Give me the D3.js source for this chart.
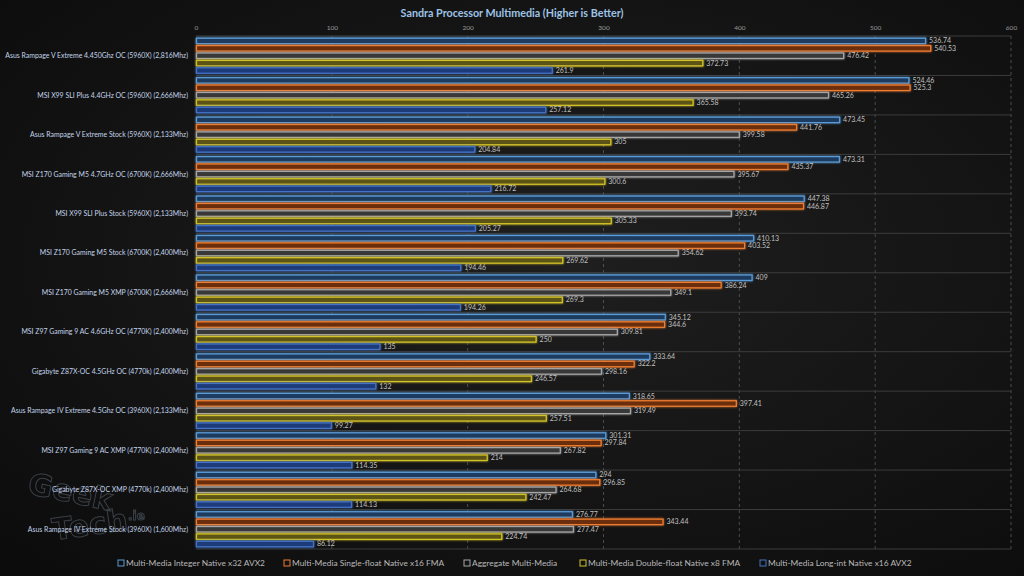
<!DOCTYPE html>
<html><head><meta charset="utf-8">
<script src="https://cdn.jsdelivr.net/npm/d3@7"></script>
<style>
html,body{margin:0;padding:0;background:#111;}
svg{display:block;}
</style></head>
<body>
<svg id="chart" width="1024" height="576"></svg>
<script>
const title = "Sandra Processor Multimedia (Higher is Better)";
const categories = [
  "Asus Rampage V Extreme 4.450Ghz OC (5960X) (2,816Mhz)",
  "MSI X99 SLI Plus 4.4GHz OC (5960X) (2,666Mhz)",
  "Asus Rampage V Extreme Stock (5960X) (2,133Mhz)",
  "MSI Z170 Gaming M5 4.7GHz OC (6700K) (2,666Mhz)",
  "MSI X99 SLI Plus Stock (5960X) (2,133Mhz)",
  "MSI Z170 Gaming M5 Stock (6700K) (2,400Mhz)",
  "MSI Z170 Gaming M5 XMP (6700K) (2,666Mhz)",
  "MSI Z97 Gaming 9 AC 4.6GHz OC (4770K) (2,400Mhz)",
  "Gigabyte Z87X-OC 4.5GHz OC (4770k) (2,400Mhz)",
  "Asus Rampage IV Extreme 4.5Ghz OC (3960X) (2,133Mhz)",
  "MSI Z97 Gaming 9 AC XMP (4770K) (2,400Mhz)",
  "Gigabyte Z87X-OC XMP (4770k) (2,400Mhz)",
  "Asus Rampage IV Extreme Stock (3960X) (1,600Mhz)"
];
const seriesNames = [
  "Multi-Media Integer Native x32 AVX2",
  "Multi-Media Single-float Native x16 FMA",
  "Aggregate Multi-Media",
  "Multi-Media Double-float Native x8 FMA",
  "Multi-Media Long-int Native x16 AVX2"
];
const integerX32 = [536.74, 524.46, 473.45, 473.31, 447.38, 410.13, 409, 345.12, 333.64, 318.65, 301.31, 294, 276.77];
const singleFloatX16 = [540.53, 525.3, 441.76, 435.37, 446.87, 403.52, 386.24, 344.6, 322.2, 397.41, 297.84, 296.85, 343.44];
const aggregate = [476.42, 465.26, 399.58, 395.67, 393.74, 354.62, 349.1, 309.81, 298.16, 319.49, 267.82, 264.68, 277.47];
const doubleFloatX8 = [372.73, 365.58, 305, 300.6, 305.33, 269.62, 269.3, 250, 246.57, 257.51, 214, 242.47, 224.74];
const longIntX16 = [261.9, 257.12, 204.84, 216.72, 205.27, 194.46, 194.26, 135, 132, 99.27, 114.35, 114.13, 86.12];
const tickValues = [0, 100, 200, 300, 400, 500, 600];

const seriesValues = [integerX32, singleFloatX16, aggregate, doubleFloatX8, longIntX16];
const strokeColors = ["#5b9bd5", "#ed7d31", "#a5a5a5", "#d2c22a", "#4472c4"];
const fillColors = ["#1e3b5e", "#6a2d0b", "#383838", "#5c5312", "#1f3a78"];

const FONT = "Lato, 'Open Sans', sans-serif";
const svg = d3.select("#chart");
const W = 1024, H = 576;
const m = {left: 196, right: 13, top: 36, bottom: 27};

function fitSize(sel, maxW, start) {
  let s = start;
  sel.attr("font-size", s);
  let w = d3.max(sel.nodes(), n => n.getComputedTextLength());
  if (w > 0) { s = s * maxW / w; sel.attr("font-size", s); }
}

const defs = svg.append("defs");
const bg = defs.append("radialGradient").attr("id","bg").attr("cx","55%").attr("cy","45%").attr("r","75%");
bg.append("stop").attr("offset","0%").attr("stop-color","#1f1f1f");
bg.append("stop").attr("offset","100%").attr("stop-color","#0c0c0c");
const glow = defs.append("filter").attr("id","glow").attr("x","-5%").attr("y","-60%").attr("width","110%").attr("height","220%");
glow.append("feGaussianBlur").attr("in","SourceGraphic").attr("stdDeviation","1").attr("result","b");
const mg = glow.append("feMerge");
mg.append("feMergeNode").attr("in","b");
mg.append("feMergeNode").attr("in","SourceGraphic");

svg.append("rect").attr("width",W).attr("height",H).attr("fill","url(#bg)");

// watermark
const wm = svg.append("g").attr("opacity",0.35).attr("font-family","'DejaVu Sans', sans-serif").attr("font-weight","bold")
  .attr("fill","none").attr("stroke","#8a9ab0").attr("stroke-width",1);
wm.append("text").attr("x",28).attr("y",500).attr("font-size",30).attr("transform","rotate(12,60,490)").text("Geek");
wm.append("text").attr("x",52).attr("y",535).attr("font-size",30).attr("transform","rotate(-8,90,525)").text("Tech");
wm.append("text").attr("x",128).attr("y",520).attr("font-size",12).text(".ie");

const x = d3.scaleLinear().domain([0, 600]).range([m.left, W - m.right]);
const y = d3.scaleBand().domain(categories).range([m.top, H - m.bottom]).padding(0);
const yi = d3.scaleBand().domain(d3.range(seriesNames.length)).range([0, y.bandwidth()]).paddingInner(0.26).paddingOuter(0.3);

// title
const t = svg.append("text").attr("x", 512).attr("y", 17).attr("text-anchor","middle")
  .attr("font-family",FONT).attr("font-weight","bold")
  .attr("fill","#9dc3e6").text(title);
fitSize(t, 223, 12);

// gridlines
const grid = svg.append("g");
grid.selectAll("line.v").data(tickValues.filter(d => d > 0)).enter().append("line")
  .attr("x1", d => x(d)).attr("x2", d => x(d)).attr("y1", m.top).attr("y2", H - m.bottom)
  .attr("stroke","#5a5a5a").attr("stroke-width",0.8).attr("stroke-dasharray","3,3");
grid.selectAll("line.h").data(d3.range(categories.length + 1)).enter().append("line")
  .attr("x1", m.left).attr("x2", W - m.right)
  .attr("y1", i => m.top + i * y.step()).attr("y2", i => m.top + i * y.step())
  .attr("stroke","#3c3c3c").attr("stroke-width",1);

// top axis
const axis = d3.axisTop(x).tickValues(tickValues).tickSize(0).tickPadding(6);
const ax = svg.append("g").attr("transform", `translate(0,${m.top})`).call(axis);
ax.select(".domain").remove();
ax.selectAll("text").attr("fill","#9a9a9a").attr("font-size",6.5).attr("font-family",FONT);

// category labels
const cl = svg.append("g").selectAll("text").data(categories).enter().append("text")
  .attr("x", 188).attr("y", d => y(d) + y.bandwidth()/2).attr("dy","0.35em")
  .attr("text-anchor","end").attr("font-family",FONT)
  .attr("fill","#c4d4ea").text(d => d);
fitSize(cl, 183, 8);

// bars
const rows = [];
categories.forEach((c, ci) => seriesValues.forEach((vals, si) => rows.push({c, si, v: vals[ci]})));
const bars = svg.append("g");
bars.selectAll("rect").data(rows).enter().append("rect")
  .attr("x", x(0) + 0.5).attr("y", d => y(d.c) + yi(d.si))
  .attr("width", d => x(d.v) - x(0)).attr("height", yi.bandwidth())
  .attr("fill", d => fillColors[d.si]).attr("stroke", d => strokeColors[d.si]).attr("stroke-width", 1.3)
  .attr("filter","url(#glow)");
bars.selectAll("text").data(rows).enter().append("text")
  .attr("x", d => x(d.v) + 4).attr("y", d => y(d.c) + yi(d.si) + yi.bandwidth()/2).attr("dy","0.35em")
  .attr("font-family",FONT).attr("font-size",7).attr("fill","#c0c0c0")
  .text(d => d.v);

// legend
const legendX = [121, 287, 467, 583, 763];
const lg = svg.append("g");
seriesNames.forEach((n, i) => {
  const g = lg.append("g").attr("transform", `translate(${legendX[i]},563)`);
  g.append("rect").attr("x",-3).attr("y",-3).attr("width",6).attr("height",6)
    .attr("fill","none").attr("stroke",strokeColors[i]).attr("stroke-width",1);
  g.append("text").attr("x",5).attr("dy","0.35em").attr("font-family",FONT)
    .attr("font-size",8.4).attr("fill","#b8b8b8").text(n);
});
</script>
</body></html>
